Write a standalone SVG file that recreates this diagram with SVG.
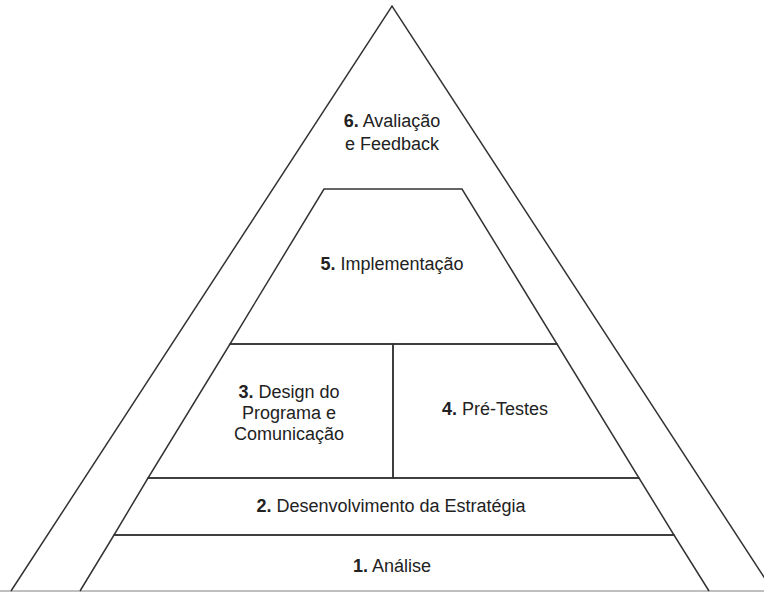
<svg xmlns="http://www.w3.org/2000/svg" width="764" height="592" viewBox="0 0 764 592">
<style>
.s{fill:none;stroke:#333;stroke-width:1.5;stroke-linejoin:miter}
.t{font-family:"Liberation Sans",Arial,sans-serif;font-size:18px;fill:#222;text-anchor:middle}
.b{font-weight:bold}
</style>
<rect width="764" height="592" fill="#fff"/>
<g id="baseline"><line x1="0" y1="591" x2="764" y2="591" stroke="#aaa" stroke-width="1.5"/></g>
<g id="node6">
<polyline class="s" points="11,591 392,6 773,591"/>
<text class="t" x="392" y="127"><tspan class="b">6.</tspan> Avaliação</text>
<text class="t" x="392" y="150">e Feedback</text>
</g>
<g id="node5">
<polygon class="s" points="324,189 462,189 557,344 230,344"/>
<text class="t" x="392" y="270"><tspan class="b">5.</tspan> Implementação</text>
</g>
<g id="node3">
<polygon class="s" points="230,344 393,344 393,478 148,478"/>
<text class="t" x="289" y="398"><tspan class="b">3.</tspan> Design do</text>
<text class="t" x="289" y="419">Programa e</text>
<text class="t" x="289" y="440">Comunicação</text>
</g>
<g id="node4">
<polygon class="s" points="393,344 557,344 639,478 393,478"/>
<text class="t" x="495" y="415"><tspan class="b">4.</tspan> Pré-Testes</text>
</g>
<g id="node2">
<polygon class="s" points="148,478 639,478 674,535 114,535"/>
<text class="t" x="391" y="512"><tspan class="b">2.</tspan> Desenvolvimento da Estratégia</text>
</g>
<g id="node1">
<polyline class="s" points="80,591 114,535 674,535 709,591"/>
<text class="t" x="392" y="572"><tspan class="b">1.</tspan> Análise</text>
</g>
<g id="connectors"></g>
</svg>
